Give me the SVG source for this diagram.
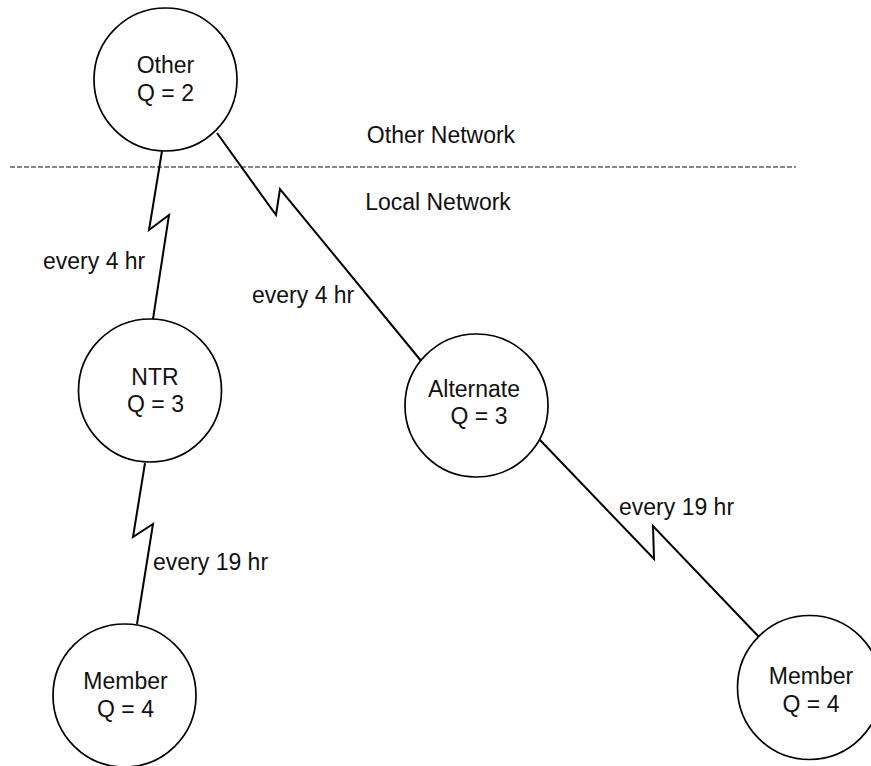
<svg xmlns="http://www.w3.org/2000/svg" width="871" height="766" viewBox="0 0 871 766">
<style>
.node circle{fill:#fff;stroke:#000;stroke-width:1.7}
text{font-family:"Liberation Sans",Arial,Helvetica,sans-serif;font-size:23px;fill:#111}
.c{text-anchor:middle}
#connectors polyline{fill:none;stroke:#000;stroke-width:2;stroke-linejoin:miter}
</style>
<rect width="871" height="766" fill="#fff"/>
<line x1="10" y1="167" x2="796" y2="167" stroke="#111" stroke-width="1.2" stroke-dasharray="5,2"/>
<text class="c" x="441" y="143">Other Network</text>
<text class="c" x="438" y="210">Local Network</text>
<g id="connectors">
<polyline points="162,151 149,230 169,215 153,319"/>
<polyline points="217,133 276,215 280,189 422,362"/>
<polyline points="540,440 654,559 653,526 759,637"/>
<polyline points="145,463 133,537 153,524 137,624"/>
<text x="43" y="269">every 4 hr</text>
<text x="252" y="303">every 4 hr</text>
<text x="153" y="570">every 19 hr</text>
<text x="619" y="515">every 19 hr</text>
</g>
<g id="other" class="node">
<circle cx="165.5" cy="79.5" r="71.5"/>
<text class="c" x="165.5" y="72.5">Other</text>
<text class="c" x="165.5" y="100.5">Q = 2</text>
</g>
<g id="ntr" class="node">
<circle cx="150" cy="390.5" r="71.5"/>
<text class="c" x="155" y="385">NTR</text>
<text class="c" x="155.5" y="412">Q = 3</text>
</g>
<g id="alternate" class="node">
<circle cx="476.5" cy="405.5" r="71.5"/>
<text class="c" x="474" y="396.5">Alternate</text>
<text class="c" x="479" y="424">Q = 3</text>
</g>
<g id="member1" class="node">
<circle cx="124.5" cy="695.5" r="71.5"/>
<text class="c" x="125.5" y="689">Member</text>
<text class="c" x="125.5" y="717">Q = 4</text>
</g>
<g id="member2" class="node">
<circle cx="809.5" cy="687.5" r="72"/>
<text class="c" x="811" y="683.5">Member</text>
<text class="c" x="811" y="711.5">Q = 4</text>
</g>
</svg>
